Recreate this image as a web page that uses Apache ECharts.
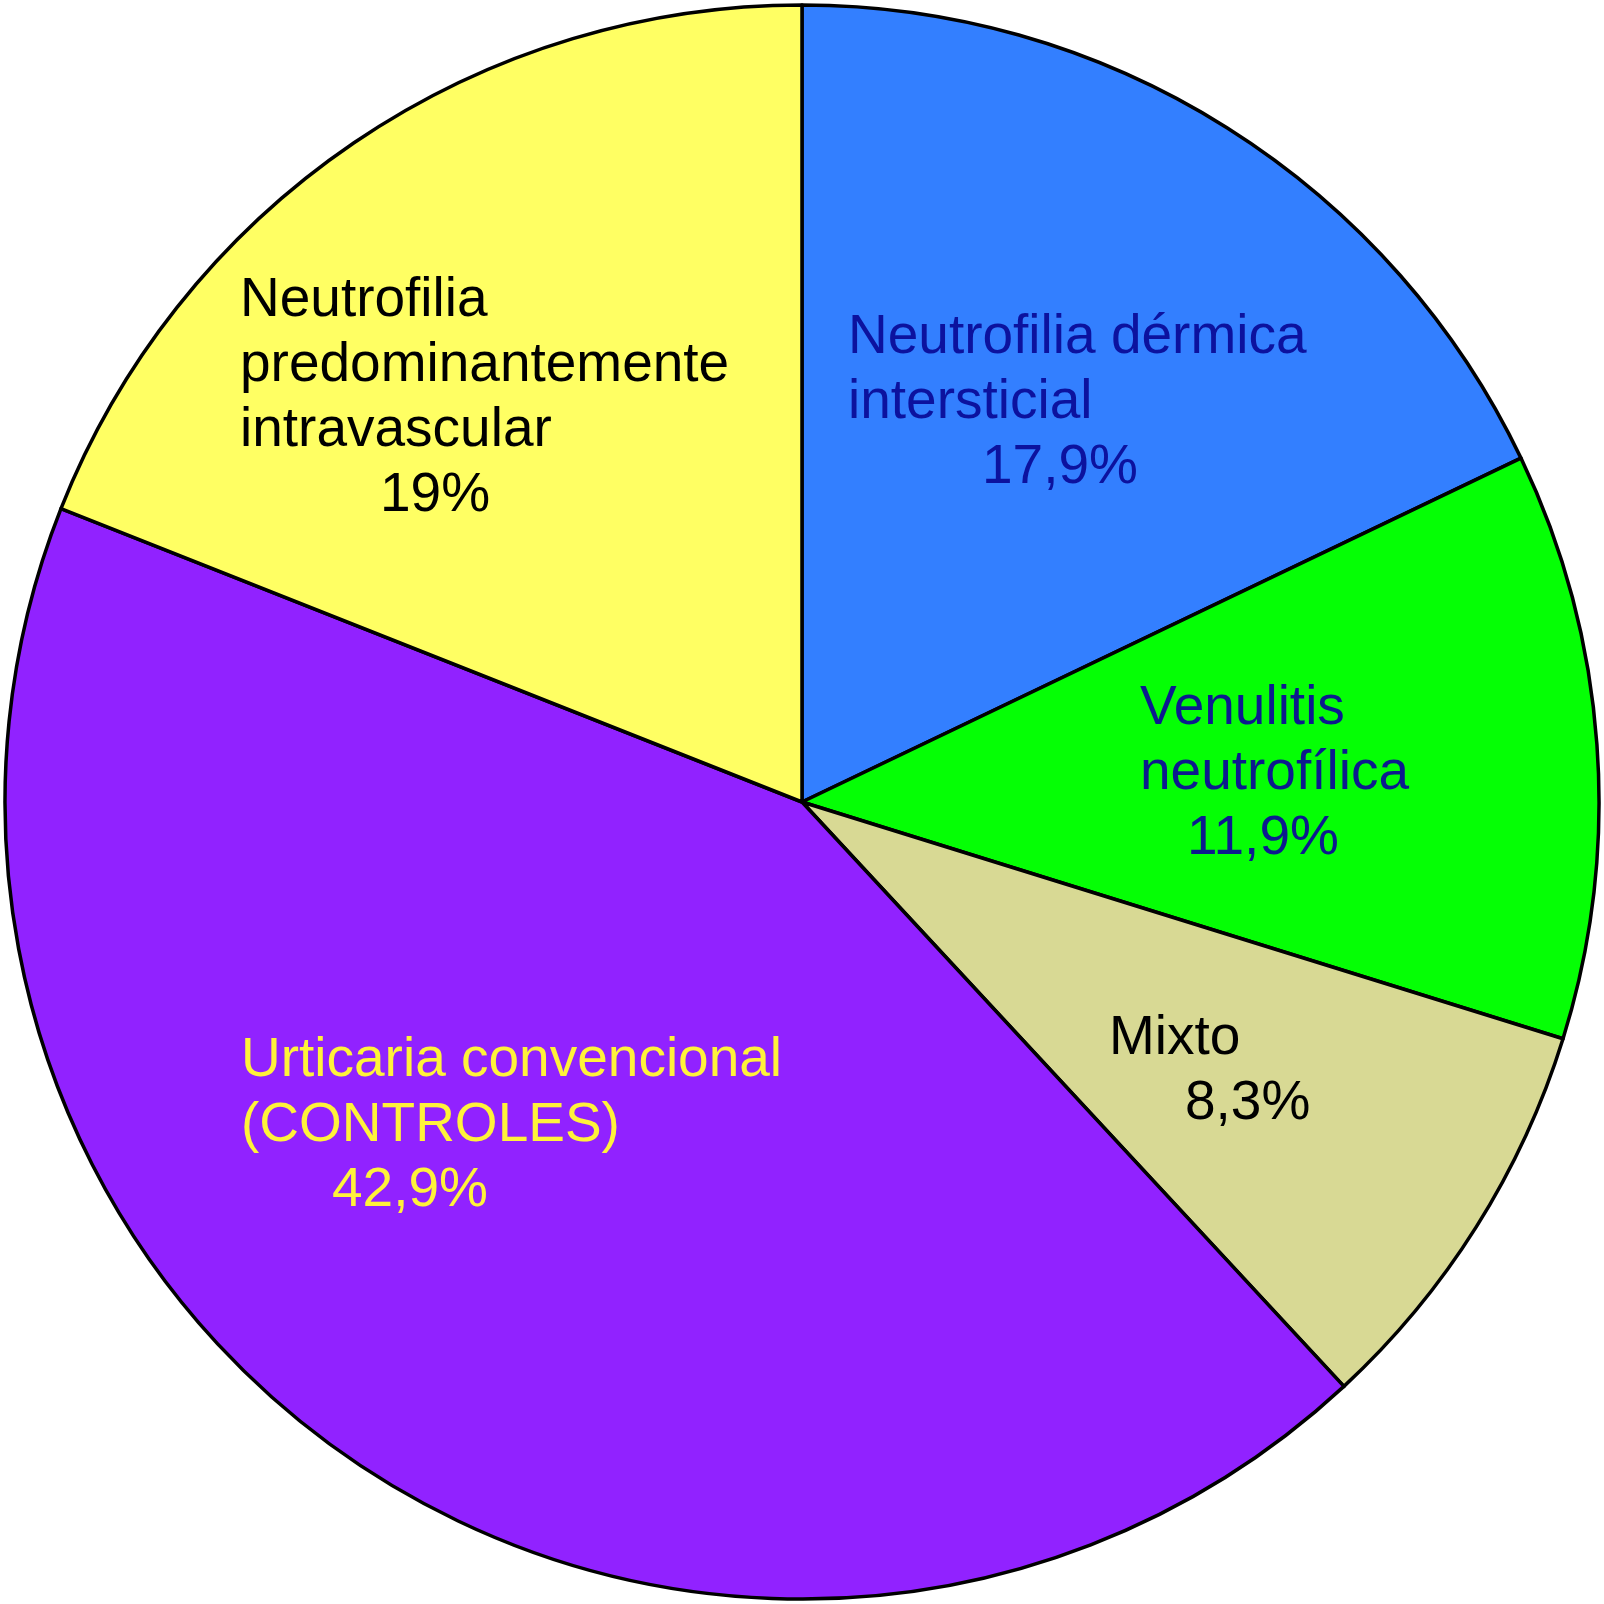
<!DOCTYPE html>
<html>
<head>
<meta charset="utf-8">
<script src="https://cdn.jsdelivr.net/npm/echarts@6/dist/echarts.min.js"></script>
<style>
html,body{margin:0;padding:0;background:#fff;}
#chart{width:1604px;height:1604px;}
</style>
</head>
<body>
<div id="chart"></div>
<script>
// Data (clockwise from 12 o'clock)
const categories = [
  "Neutrofilia dérmica\nintersticial",
  "Venulitis\nneutrofílica",
  "Mixto",
  "Urticaria convencional\n(CONTROLES)",
  "Neutrofilia\npredominantemente\nintravascular"
];
const values = [17.9, 11.9, 8.3, 42.9, 19];

// Styles / layout
const sliceColors = ["#337FFF", "#05FF05", "#D8D994", "#9122FF", "#FFFF63"];
const labelColors = ["#0C129E", "#0C1A8E", "#000000", "#FFF23A", "#000000"];
const labelPos = [[848, 305], [1140, 676], [1109, 1006], [241, 1028], [240, 268]];
const pctIndent = [134, 47, 76, 91, 140];

const chart = echarts.init(document.getElementById('chart'), null, {renderer: 'canvas'});
const FONT = '"Liberation Sans", Arial, Helvetica, sans-serif';

const data = categories.map((c, i) => ({
  name: c,
  value: values[i],
  itemStyle: {color: sliceColors[i]},
  label: {
    rich: {
      n: {fontFamily: FONT, fontSize: 55, lineHeight: 65, color: labelColors[i]},
      p: {fontFamily: FONT, fontSize: 55, lineHeight: 65, color: labelColors[i], padding: [0, 0, 0, pctIndent[i]]}
    }
  }
}));

chart.setOption({
  backgroundColor: '#ffffff',
  animation: false,
  series: [{
    type: 'pie',
    center: ['50%', '50%'],
    radius: 797,
    startAngle: 90,
    clockwise: true,
    avoidLabelOverlap: false,
    itemStyle: {borderColor: '#000', borderWidth: 3.5},
    label: {
      show: true,
      position: 'inside',
      formatter: p => {
        const lines = p.name.split('\n').map(l => '{n|' + l + '}');
        lines.push('{p|' + String(p.value).replace('.', ',') + '%}');
        return lines.join('\n');
      }
    },
    labelLine: {show: false},
    labelLayout: p => ({
      x: labelPos[p.dataIndex][0],
      y: labelPos[p.dataIndex][1],
      align: 'left',
      verticalAlign: 'top'
    }),
    emphasis: {disabled: true},
    data: data
  }]
});
</script>
</body>
</html>
